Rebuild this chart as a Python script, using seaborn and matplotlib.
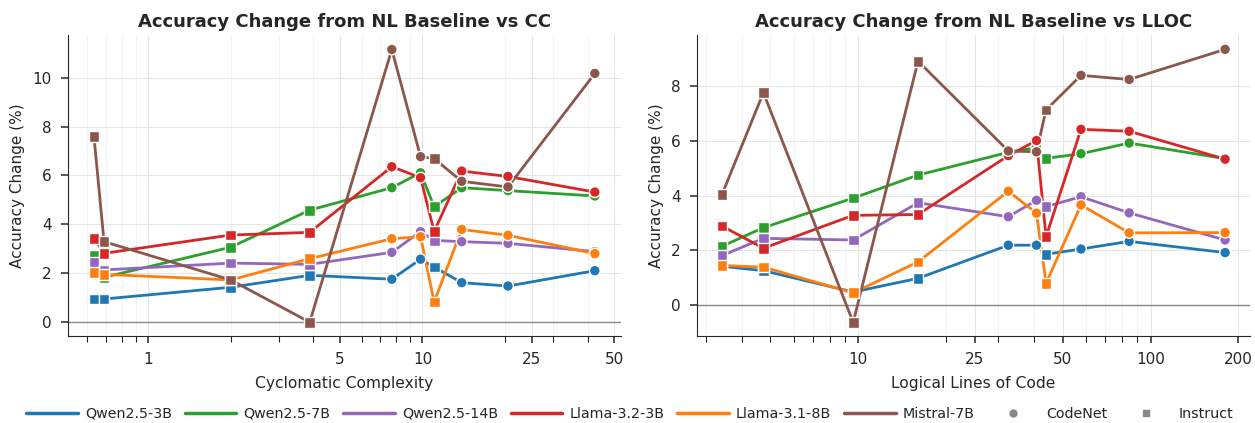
import numpy as np
import pandas as pd
import seaborn as sns
import matplotlib
matplotlib.use("Agg")
import matplotlib.pyplot as plt
from matplotlib.lines import Line2D
from matplotlib.ticker import FixedLocator, LogLocator, NullFormatter, FuncFormatter

models = ["Qwen2.5-3B", "Qwen2.5-7B", "Qwen2.5-14B", "Llama-3.2-3B", "Llama-3.1-8B", "Mistral-7B"]
colors = ["#1f77b4", "#2ca02c", "#9467bd", "#d62728", "#ff7f0e", "#8c564b"]

# Cyclomatic complexity panel
cc_x = [0.634, 0.69, 2.0, 3.88, 7.73, 9.84, 11.03, 13.9, 20.5, 42.5]
cc_src = ["Instruct", "Instruct", "Instruct", "Instruct", "CodeNet", "CodeNet", "Instruct", "CodeNet", "CodeNet", "CodeNet"]
cc_vals = {
    "Qwen2.5-3B":   [0.94, 0.94, 1.42, 1.91, 1.75, 2.57, 2.25, 1.61, 1.47, 2.10],
    "Qwen2.5-7B":   [2.73, 1.83, 3.06, 4.58, 5.50, 6.11, 4.72, 5.50, 5.38, 5.16],
    "Qwen2.5-14B":  [2.43, 2.13, 2.41, 2.36, 2.85, 3.70, 3.34, 3.29, 3.22, 2.88],
    "Llama-3.2-3B": [3.43, 2.81, 3.56, 3.67, 6.36, 5.91, 3.70, 6.18, 5.96, 5.32],
    "Llama-3.1-8B": [2.03, 1.95, 1.72, 2.59, 3.41, 3.49, 0.82, 3.79, 3.55, 2.80],
    "Mistral-7B":   [7.61, 3.29, 1.72, -0.01, 11.16, 6.77, 6.69, 5.76, 5.53, 10.18],
}

# Logical lines of code panel
ll_x = [3.41, 4.73, 9.6, 16.0, 32.6, 40.7, 43.9, 57.8, 84.5, 180.0]
ll_src = ["Instruct", "Instruct", "Instruct", "Instruct", "CodeNet", "CodeNet", "Instruct", "CodeNet", "CodeNet", "CodeNet"]
ll_vals = {
    "Qwen2.5-3B":   [1.42, 1.26, 0.48, 0.98, 2.19, 2.19, 1.86, 2.05, 2.33, 1.92],
    "Qwen2.5-7B":   [2.15, 2.83, 3.91, 4.75, 5.58, 5.75, 5.36, 5.53, 5.92, 5.35],
    "Qwen2.5-14B":  [1.81, 2.44, 2.38, 3.74, 3.23, 3.83, 3.60, 3.96, 3.37, 2.38],
    "Llama-3.2-3B": [2.89, 2.08, 3.28, 3.31, 5.46, 6.01, 2.50, 6.42, 6.35, 5.33],
    "Llama-3.1-8B": [1.45, 1.39, 0.45, 1.58, 4.16, 3.36, 0.80, 3.66, 2.64, 2.65],
    "Mistral-7B":   [4.03, 7.76, -0.63, 8.91, 5.63, 5.60, 7.13, 8.39, 8.24, 9.34],
}

def build(xs, srcs, vals):
    rows = []
    for m in models:
        for x, s, v in zip(xs, srcs, vals[m]):
            rows.append({"x": x, "dataset": s, "model": m, "acc": v})
    return pd.DataFrame(rows)

sns.set_style("ticks")
plt.rcParams["font.family"] = ["DejaVu Sans"]

fig, axes = plt.subplots(1, 2, figsize=(12.55, 4.23), dpi=100)
fig.subplots_adjust(left=0.0542, right=0.996, top=0.917, bottom=0.206, wspace=0.137)

palette = dict(zip(models, colors))

panels = [
    (axes[0], build(cc_x, cc_src, cc_vals), "Accuracy Change from NL Baseline vs CC", "Cyclomatic Complexity",
     [1, 5, 10, 25, 50], (0.51, 53), (-0.57, 11.75), [0, 2, 4, 6, 8, 10]),
    (axes[1], build(ll_x, ll_src, ll_vals), "Accuracy Change from NL Baseline vs LLOC", "Logical Lines of Code",
     [10, 25, 50, 100, 200], (2.8, 219), (-1.12, 9.86), [0, 2, 4, 6, 8]),
]

for ax, df, title, xlabel, xt, xlim, ylim, yt in panels:
    ax.set_xscale("log")
    ax.axhline(0, color="#888888", lw=1.0, zorder=1)
    for m in models:
        sub = df[df.model == m].sort_values("x")
        sns.lineplot(data=sub, x="x", y="acc", color=palette[m], lw=2, ax=ax, legend=False, zorder=3, sort=True)
        sns.scatterplot(data=sub, x="x", y="acc", style="dataset", markers={"CodeNet": "o", "Instruct": "s"},
                        color=palette[m], s=60, edgecolor="white", linewidth=1, ax=ax, legend=False, zorder=4)
    ax.xaxis.set_major_locator(FixedLocator(xt))
    ax.xaxis.set_major_formatter(FuncFormatter(lambda v, p: f"{v:g}"))
    ax.xaxis.set_minor_locator(LogLocator(base=10, subs=np.arange(2, 10), numticks=20))
    ax.xaxis.set_minor_formatter(NullFormatter())
    ax.set_xlim(*xlim)
    ax.set_ylim(*ylim)
    ax.set_yticks(yt)
    ax.grid(True, which="major", color="#e6e6e6", lw=0.8, zorder=0)
    ax.grid(True, which="minor", axis="x", color="#f0f0f0", lw=0.6, zorder=0)
    ax.set_title(title, fontsize=13, fontweight="bold")
    ax.set_xlabel(xlabel, fontsize=11.2, labelpad=6)
    ax.set_ylabel("Accuracy Change (%)", fontsize=11, labelpad=5)
    ax.tick_params(axis="both", which="major", labelsize=11, length=5.3, width=1.1, pad=6.5)
    ax.tick_params(axis="x", which="minor", length=4, width=0.8)
    sns.despine(ax=ax)

handles = [Line2D([0], [0], color=c, lw=2.5) for c in colors]
handles += [Line2D([0], [0], color="#888888", marker="o", ls="none", markersize=5),
            Line2D([0], [0], color="#888888", marker="s", ls="none", markersize=5)]
labels = models + ["CodeNet", "Instruct"]
fig.legend(handles, labels, loc="lower center", bbox_to_anchor=(0.502, -0.025), ncol=8, frameon=False,
           fontsize=10.3, handlelength=3.6, handletextpad=0.5, columnspacing=0.9)

fig.savefig("out.png", dpi=100)
